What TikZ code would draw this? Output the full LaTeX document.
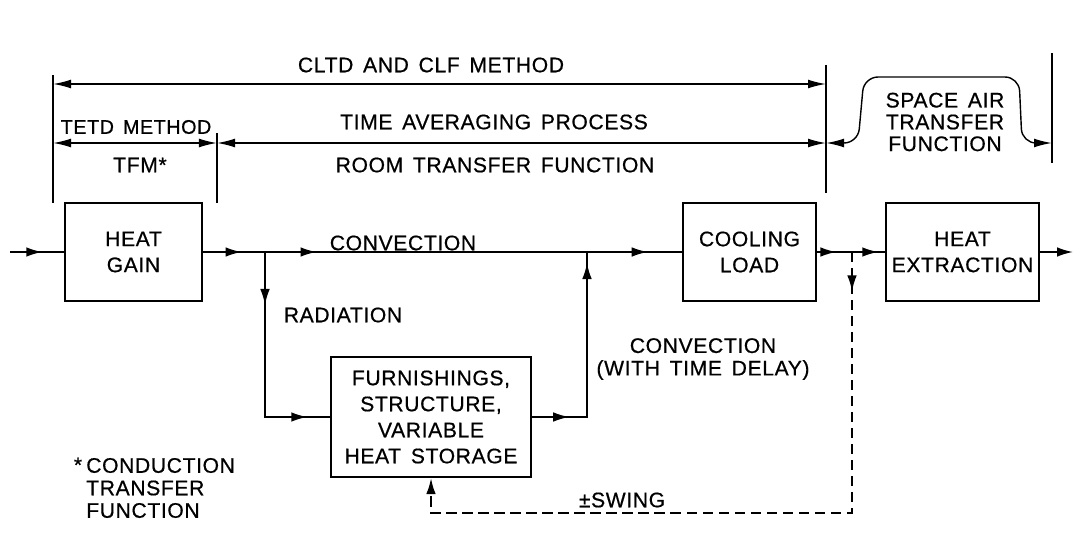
\documentclass[tikz,border=0pt]{standalone}
\usepackage{fontspec}
\setmainfont{Liberation Sans}[LetterSpace=3,WordSpace=1.5,FakeBold=0.6]
\usetikzlibrary{arrows.meta,decorations.markings,positioning}
\tikzset{mtip/.tip={Latex[length=4mm,width=2.4mm]}}

\begin{document}
\begin{tikzpicture}[x=0.025cm,y=-0.025cm,
  every node/.style={font=\fontsize{15}{18.5}\selectfont},
  blk/.style={draw,line width=1.5pt,align=center,minimum height=2.43cm,inner sep=2pt},
  conn/.style={line width=1.2pt},
  dim/.style={line width=1pt,{Latex[length=4.5mm,width=2.2mm]}-{Latex[length=4.5mm,width=2.2mm]}},
  midtip/.style={postaction={decorate,decoration={markings,mark=at position #1 with {\arrow{mtip}}}}}]
  \useasboundingbox (0,0) rectangle (1083,558);
  % blocks
  \node[blk,minimum width=3.43cm] (gain) at (133.5,252) {HEAT\\GAIN};
  \node[blk,minimum width=3.33cm] (cool) at (749.5,252) {COOLING\\LOAD};
  \node[blk,minimum width=3.83cm] (extract) at (962.5,252) {HEAT\\EXTRACTION};
  \node[blk,minimum width=4.98cm,minimum height=3cm] (store) at (431,417) {FURNISHINGS,\\STRUCTURE,\\VARIABLE\\HEAT STORAGE};
  % branch points
  \coordinate (in) at (10,252);
  \coordinate (out) at (1073,252);
  \coordinate (br1) at (265,252);
  \coordinate (br2) at (587,252);
  \coordinate (br3) at (852,252);
  \coordinate (sw1) at (852,513);
  \coordinate (sw2) at (431,513);
  % heat flow
  \draw[conn,midtip=0.6] (in) -- (gain.west);
  \draw[conn,midtip=0.62] (gain.east) -- (br1);
  \draw[conn,midtip=0.16] (br1) -- (br2);
  \draw[conn,midtip=0.64] (br2) -- (cool.west);
  \draw[conn,midtip=0.23,midtip=0.9] (br1) -- (br1 |- store.west) -- (store.west);
  \draw[conn,midtip=0.17,midtip=0.95] (store.east) -- (br2 |- store.east) -- (br2);
  \draw[conn,midtip=0.55] (cool.east) -- (br3);
  \draw[conn,midtip=0.8] (br3) -- (extract.west);
  \draw[conn,-mtip] (extract.east) -- (out);
  \draw[conn,line width=1.4pt,dash pattern=on 2.6mm off 1.4mm,midtip=0.055,-mtip] (br3) -- (sw1) -- (sw2) -- (store.south);
  % labels
  \node (conv) at (403,243) {CONVECTION};
  \node (rad) at (343,315) {RADIATION};
  \node[align=center,font=\fontsize{15}{16}\selectfont] (delay) at (703,359) {CONVECTION\\(WITH TIME DELAY)};
  \node (swing) at (622,500) {±SWING};
  \node[align=left,anchor=west,inner sep=0pt,font=\fontsize{15}{16}\selectfont] (ctf) at (86,488) {CONDUCTION\\TRANSFER\\FUNCTION};
  \node[inner sep=0pt] (star) at (78,465) {*};
  % method ranges
  \coordinate (l1) at (53,84);
  \coordinate (r1) at (826,84);
  \coordinate (l2) at (53,143);
  \coordinate (m2) at (217,143);
  \coordinate (r2) at (826,143);
  \coordinate (e2) at (1052,143);
  \draw[conn] (53,75) -- (53,203);
  \draw[conn] (217,133) -- (217,203);
  \draw[conn] (826,65) -- (826,193);
  \draw[conn] (1052,53) -- (1052,163);
  \draw[dim] (l1) -- (r1);
  \draw[dim] (l2) -- (m2);
  \draw[dim] (m2) -- (r2);
  \draw[dim,rounded corners=0.35cm] (r2) -- (858,143) -- (864,77) -- (1019,77) -- (1022,143) -- (e2);
  \node (cltd) at (431,65) {CLTD AND CLF METHOD};
  \node[anchor=east,inner sep=1pt,font=\fontsize{14}{16}\selectfont] (tetd) at (213,127) {TETD METHOD};
  \node (tfm) at (140,165) {TFM*};
  \node (tap) at (494,122) {TIME AVERAGING PROCESS};
  \node (rtf) at (495,165) {ROOM TRANSFER FUNCTION};
  \node[align=center,font=\fontsize{15}{15.5}\selectfont] (satf) at (945,122) {SPACE AIR\\TRANSFER\\FUNCTION};
\end{tikzpicture}
\end{document}
